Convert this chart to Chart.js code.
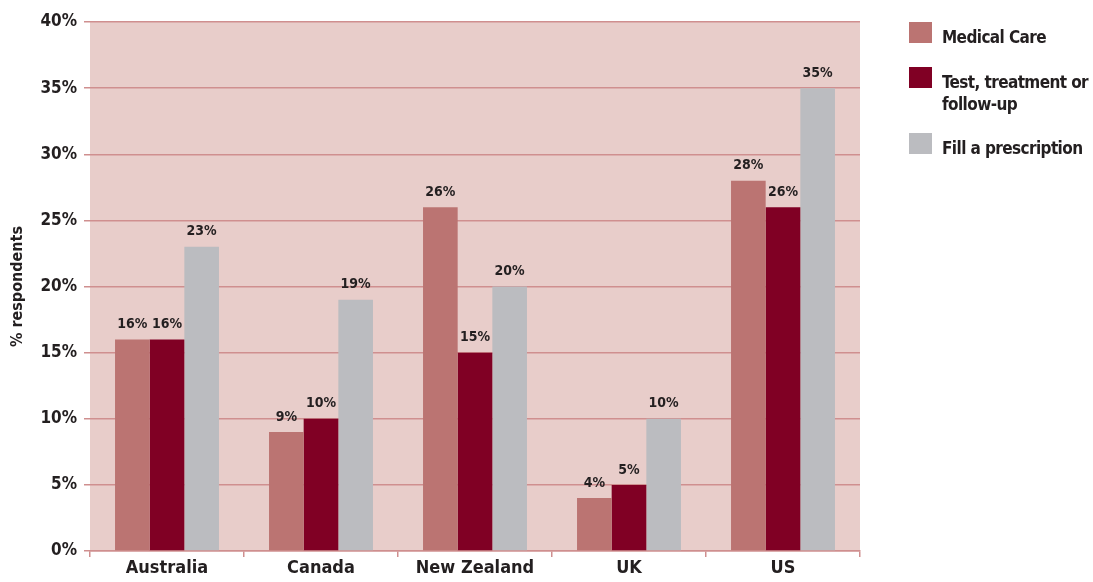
<!DOCTYPE html>
<html>
<head>
<meta charset="utf-8">
<script src="https://cdn.jsdelivr.net/npm/chart.js@4"></script>
<style>
  body { margin: 0; background: #fff; }
  #wrap { position: relative; width: 1093px; height: 582px; overflow: hidden; }
  #legend { position: absolute; left: 909px; top: 0; font-family: 'DejaVu Sans Condensed', 'Liberation Sans Narrow', sans-serif; font-weight: bold; font-size: 17px; color: #231f20; }
  .item { position: absolute; left: 0; padding-left: 33px; padding-top: 4px; width: 160px; line-height: 22px; letter-spacing: -0.6px; }
  .box { position: absolute; left: 0; top: 0; width: 23px; height: 21px; }
</style>
</head>
<body>
<div id="wrap">
  <canvas id="chart" width="1093" height="582"></canvas>
  <div id="legend"></div>
</div>
<script>
const countries = ['Australia', 'Canada', 'New Zealand', 'UK', 'US'];
const seriesNames = ['Medical Care', 'Test, treatment or follow-up', 'Fill a prescription'];
const medicalCare = [16, 9, 26, 4, 28];
const testTreatment = [16, 10, 15, 5, 26];
const fillPrescription = [23, 19, 20, 10, 35];
const colors = ['#bb7472', '#800024', '#bbbcc0'];

const font = "'DejaVu Sans Condensed', 'Liberation Sans Narrow', sans-serif";

// pink plot background
const plotBg = {
    id: 'plotBg',
    beforeDraw(chart) {
        const a = chart.chartArea;
        const c = chart.ctx;
        c.save();
        c.fillStyle = '#e8cdca';
        c.fillRect(a.left, a.top, a.right - a.left, a.bottom - a.top);
        c.restore();
    }
};

// value labels above bars
const valueLabels = {
    id: 'valueLabels',
    afterDatasetsDraw(chart) {
        const c = chart.ctx;
        c.save();
        c.font = 'bold 14px ' + font;
        c.fillStyle = '#231f20';
        c.textAlign = 'center';
        c.textBaseline = 'bottom';
        chart.data.datasets.forEach((ds, i) => {
            chart.getDatasetMeta(i).data.forEach((bar, j) => {
                c.fillText(ds.data[j] + '%', bar.x, bar.y - 8);
            });
        });
        c.restore();
    }
};

const ctx = document.getElementById('chart').getContext('2d');
new Chart(ctx, {
    type: 'bar',
    data: {
        labels: countries,
        datasets: [medicalCare, testTreatment, fillPrescription].map((d, i) => ({
            label: seriesNames[i],
            data: d,
            backgroundColor: colors[i],
            borderWidth: 0,
            categoryPercentage: 0.675,
            barPercentage: 1,
        })),
    },
    options: {
        responsive: false,
        animation: false,
        layout: { padding: { top: 22, right: 233, left: 0, bottom: 0 } },
        plugins: { legend: { display: false }, tooltip: { enabled: false } },
        scales: {
            x: {
                afterFit(scale) { scale.height = 31; },
                border: { color: '#cf8f8f', width: 1.5 },
                grid: { offset: true, drawOnChartArea: false, tickLength: 6, color: '#cf8f8f', lineWidth: 1.5 },
                ticks: { color: '#231f20', font: { family: font, size: 18, weight: 'bold' }, padding: 1 },
            },
            y: {
                min: 0,
                max: 40,
                afterFit(scale) { scale.width = 90; },
                border: { display: false },
                grid: { color: '#cf8f8f', lineWidth: 1.5, tickLength: 6 },
                ticks: {
                    stepSize: 5,
                    color: '#231f20',
                    padding: 7,
                    font: { family: font, size: 17, weight: 'bold' },
                    callback: (v) => v + '%',
                },
                title: {
                    display: true,
                    text: '% respondents',
                    color: '#231f20',
                    padding: { top: 8, bottom: 0 },
                    font: { family: font, size: 16, weight: 'bold' },
                },
            },
        },
    },
    plugins: [plotBg, valueLabels],
});

// legend on the right
const legend = document.getElementById('legend');
const itemTops = [22, 67, 133];
seriesNames.forEach((name, i) => {
    const item = document.createElement('div');
    item.className = 'item';
    item.style.top = itemTops[i] + 'px';
    item.innerHTML = '<span class="box" style="background:' + colors[i] + '"></span>' + name;
    legend.appendChild(item);
});
</script>
</body>
</html>
